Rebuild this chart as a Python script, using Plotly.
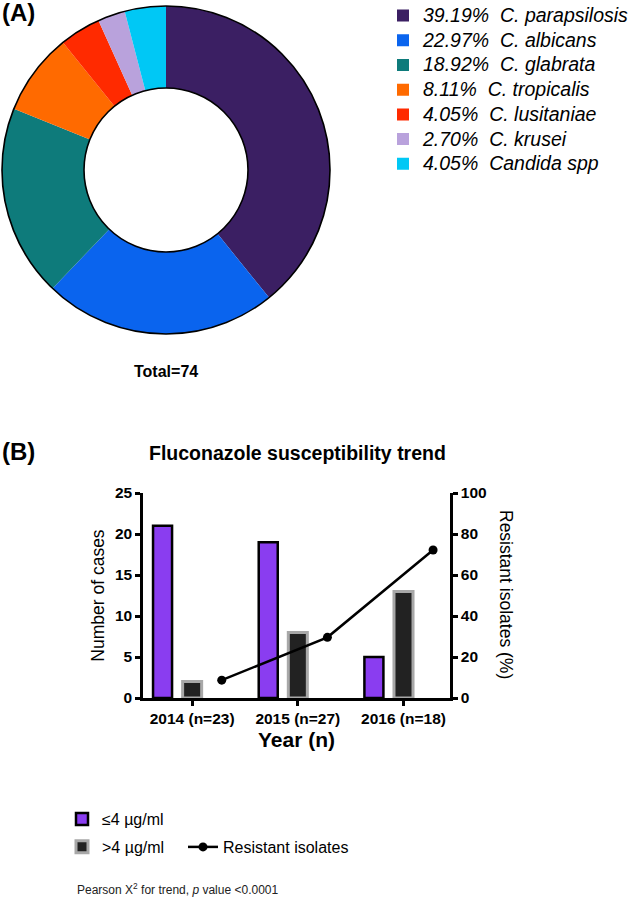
import numpy as np
import plotly.graph_objects as go

# ---------------- data ----------------
species = ["C. parapsilosis", "C. albicans", "C. glabrata", "C. tropicalis",
           "C. lusitaniae", "C. krusei", "Candida spp"]
species_counts = [29, 17, 14, 6, 3, 2, 3]
species_colors = ["#3B1F63", "#0A64EE", "#0E7B7B", "#FF6A00", "#FF2A00", "#B9A2DC", "#00C8F5"]

years = ["2014 (n=23)", "2015 (n=27)", "2016 (n=18)"]
susceptible = [21, 19, 5]          # <=4 ug/ml
non_susceptible = [2, 8, 13]       # >4 ug/ml
resistant_pct = [8.7, 29.6, 72.2]  # % resistant isolates

FONT = "Liberation Sans, Arial, sans-serif"
total = sum(species_counts)
pie_labels = [f"<span style='font-size:19.5px'><i>{c / total * 100:.2f}%\u00a0\u00a0{s}</i></span>"
              for s, c in zip(species, species_counts)]

fig = go.Figure()

# ---------------- panel A: donut ----------------
pie_domain = dict(x=[2 / 630, 330 / 630], y=[1 - 334 / 899, 1 - 6 / 899])
fig.add_trace(go.Pie(
    labels=pie_labels, values=species_counts, hole=0.5, sort=False,
    direction="clockwise", rotation=0, textinfo="none",
    marker=dict(colors=species_colors, line=dict(width=0)),
    domain=pie_domain, legend="legend", hoverinfo="label+value",
))
# outline ring (outer and inner circles)
fig.add_trace(go.Pie(
    labels=["ring"], values=[total], hole=0.5, sort=False, textinfo="none",
    marker=dict(colors=["rgba(0,0,0,0)"], line=dict(color="black", width=1.6)),
    domain=pie_domain, showlegend=False, hoverinfo="skip",
))

# ---------------- panel B: bars + line ----------------
idx = np.arange(len(years))
fig.add_trace(go.Bar(
    x=idx, y=susceptible, name="\u22644 \u00b5g/ml", width=0.18, offset=-0.37,
    marker=dict(color="#8A3DF0", line=dict(color="black", width=2.5)),
    legend="legend2", legendgroup="a", xaxis="x", yaxis="y",
))
fig.add_trace(go.Bar(
    x=idx, y=non_susceptible, name=">4 \u00b5g/ml", width=0.18, offset=-0.09,
    marker=dict(color="#222222", line=dict(color="#A8A8A8", width=3)),
    legend="legend2", legendgroup="b", xaxis="x", yaxis="y",
))
fig.add_trace(go.Scatter(
    x=idx + 0.28, y=resistant_pct, name="Resistant isolates", mode="lines+markers",
    line=dict(color="black", width=2.5), marker=dict(color="black", size=9),
    legend="legend3", xaxis="x", yaxis="y2",
))

axis_common = dict(showline=True, linecolor="black", linewidth=2.5, ticks="outside",
                   tickwidth=2.5, tickcolor="black", ticklen=5, showgrid=False,
                   zeroline=False, tickfont=dict(family=FONT, size=15.5, color="black", weight="bold"))

fig.update_layout(
    width=630, height=899, margin=dict(l=0, r=0, t=0, b=0, autoexpand=False),
    paper_bgcolor="white", plot_bgcolor="white",
    font=dict(family=FONT, color="black"),
    barmode="overlay",
    xaxis=dict(domain=[143 / 630, 450 / 630], range=[-0.465, 2.44],
               tickvals=idx, ticktext=years, anchor="y",
               title=dict(text="<b>Year (n)</b>", font=dict(family=FONT, size=21), standoff=6),
               **axis_common),
    yaxis=dict(domain=[1 - 698 / 899, 1 - 493 / 899], range=[0, 25], dtick=5, anchor="x",
               title=dict(text="Number of cases", font=dict(family=FONT, size=17.5), standoff=6),
               **axis_common),
    yaxis2=dict(overlaying="y", side="right", anchor="x", range=[0, 100], dtick=20,
                **axis_common),
    legend=dict(x=383 / 630, y=1.002, xanchor="left", yanchor="top",
                font=dict(family=FONT, size=16.7, color="black"), bgcolor="rgba(0,0,0,0)"),
    legend2=dict(x=62 / 630, y=1 - 802 / 899, xanchor="left", yanchor="top",
                 font=dict(family=FONT, size=16, color="black"), tracegroupgap=4,
                 bgcolor="rgba(0,0,0,0)"),
    legend3=dict(x=183 / 630, y=1 - 830 / 899, xanchor="left", yanchor="top",
                 font=dict(family=FONT, size=16, color="black"), bgcolor="rgba(0,0,0,0)"),
    showlegend=True,
)

annotations = [
    dict(text="<b>(A)</b>", x=0, y=1 - 12 / 899, xanchor="left", yanchor="middle",
         font=dict(size=24)),
    dict(text="<b>Total=74</b>", x=166 / 630, y=1 - 372 / 899, xanchor="center", yanchor="middle",
         font=dict(size=16)),
    dict(text="<b>(B)</b>", x=0, y=1 - 451 / 899, xanchor="left", yanchor="middle",
         font=dict(size=24)),
    dict(text="<b>Fluconazole susceptibility trend</b>", x=297 / 630, y=1 - 453 / 899,
         xanchor="center", yanchor="middle", font=dict(size=19.5)),
    dict(text="Resistant isolates (%)", x=506 / 630, y=1 - 594 / 899, textangle=90,
         xanchor="center", yanchor="middle", font=dict(size=17.5)),
    dict(text="Pearson X<sup>2</sup> for trend, <i>p</i> value <0.0001", x=75 / 630,
         y=1 - 889 / 899, xanchor="left", yanchor="middle", font=dict(size=12, color="#222")),
]
for a in annotations:
    a.update(xref="paper", yref="paper", showarrow=False)
    a["font"] = dict(family=FONT, color=a["font"].get("color", "black"), size=a["font"]["size"])
fig.update_layout(annotations=annotations)

fig.write_html("out.html", config={"displayModeBar": False},
               post_script="document.body.style.margin='0px';")
